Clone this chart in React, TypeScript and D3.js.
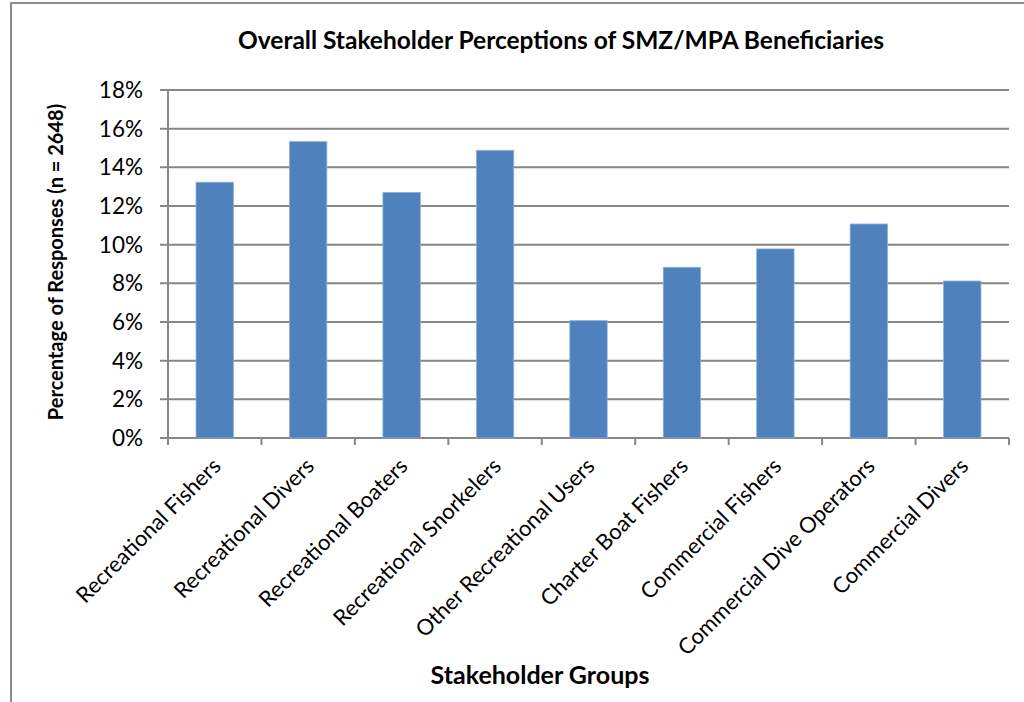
import React from "react";
import * as d3 from "d3";

const categories = [
  "Recreational Fishers",
  "Recreational Divers",
  "Recreational Boaters",
  "Recreational Snorkelers",
  "Other Recreational Users",
  "Charter Boat Fishers",
  "Commercial Fishers",
  "Commercial Dive Operators",
  "Commercial Divers",
];
const values = [13.23, 15.33, 12.7, 14.88, 6.07, 8.83, 9.78, 11.07, 8.12];
const yTicks = [0, 2, 4, 6, 8, 10, 12, 14, 16, 18];

const W = 1024;
const H = 702;
const margin = { top: 90, right: 15, bottom: 264, left: 168 };
const FONT = "Lato, 'Open Sans', sans-serif";

export default function App() {
  const plotW = W - margin.left - margin.right;
  const plotH = H - margin.top - margin.bottom;

  const x = d3.scaleBand<string>().domain(categories).range([0, plotW]).paddingInner(0.6).paddingOuter(0.3);
  const y = d3.scaleLinear().domain([0, 18]).range([plotH, 0]);
  const step = x.step();
  const boundaries = d3.range(categories.length + 1).map((i) => i * step);

  const grid = "#868686";

  return (
    <svg width={W} height={H} style={{ position: "absolute", left: 0, top: 0, background: "#fff" }}>
      {/* chart frame */}
      <rect x={11} y={3} width={W + 10} height={H + 10} fill="#fff" stroke="#8c8c8c" strokeWidth={2} />

      <text x={561} y={49} textAnchor="middle" fontFamily={FONT} fontWeight="bold" fontSize={24.5} fill="#000">
        Overall Stakeholder Perceptions of SMZ/MPA Beneficiaries
      </text>

      <g transform={`translate(${margin.left},${margin.top})`}>
        {yTicks.map((t) => (
          <g key={t} transform={`translate(0,${y(t)})`}>
            <line x1={-8} x2={plotW} stroke={grid} strokeWidth={2} />
            <text x={-25} dy="0.36em" textAnchor="end" fontFamily={FONT} fontSize={22.5} fill="#000">
              {t}%
            </text>
          </g>
        ))}

        {categories.map((c, i) => (
          <rect key={c} x={x(c)} y={y(values[i])} width={x.bandwidth()} height={plotH - y(values[i])} fill="#4f81bd" stroke="#8eb0dc" strokeWidth={0.8} />
        ))}

        <line x1={0} x2={0} y1={0} y2={plotH + 1} stroke={grid} strokeWidth={2} />
        {boundaries.map((b, i) => (
          <line key={i} x1={b} x2={b} y1={plotH} y2={plotH + 7} stroke={grid} strokeWidth={2} />
        ))}

        {categories.map((c) => {
          const cx = (x(c) ?? 0) + x.bandwidth() / 2 + 2;
          const cy = plotH + 24;
          return (
            <text key={c} transform={`translate(${cx},${cy}) rotate(-45)`} textAnchor="end" dy="0.35em" fontFamily={FONT} fontSize={22} fill="#000">
              {c}
            </text>
          );
        })}
      </g>

      <text transform={`translate(63,${margin.top + plotH / 2 - 2}) rotate(-90)`} textAnchor="middle" fontFamily={FONT} fontWeight="bold" fontSize={20} fill="#000">
        Percentage of Responses (n = 2648)
      </text>

      <text x={540} y={684} textAnchor="middle" fontFamily={FONT} fontWeight="bold" fontSize={25} fill="#000">
        Stakeholder Groups
      </text>
    </svg>
  );
}
